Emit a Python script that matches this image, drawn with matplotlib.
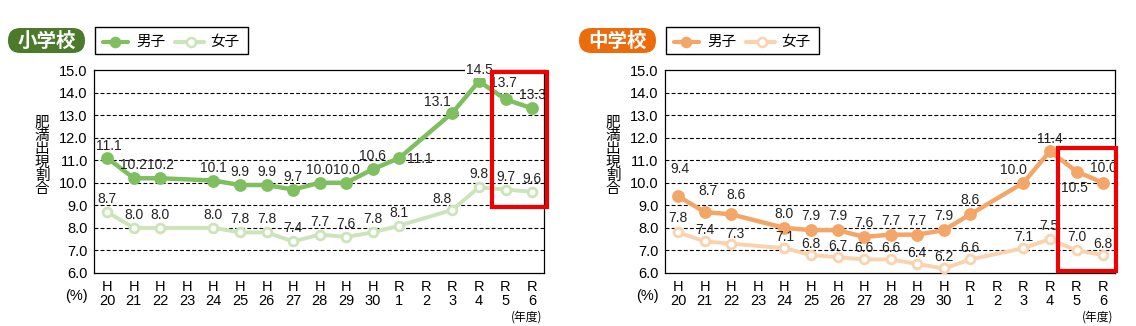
import numpy as np
import matplotlib
matplotlib.use('Agg')
import matplotlib.pyplot as plt
from matplotlib import font_manager
from matplotlib.patches import Rectangle, FancyBboxPatch
from matplotlib.lines import Line2D
from matplotlib.transforms import IdentityTransform

# ---------------- data ----------------
years = ['H\n20', 'H\n21', 'H\n22', 'H\n23', 'H\n24', 'H\n25', 'H\n26', 'H\n27',
         'H\n28', 'H\n29', 'H\n30', 'R\n1', 'R\n2', 'R\n3', 'R\n4', 'R\n5', 'R\n6']
nan = np.nan
elem_boys = [11.1, 10.2, 10.2, nan, 10.1, 9.9, 9.9, 9.7, 10.0, 10.0, 10.6, 11.1, nan, 13.1, 14.5, 13.7, 13.3]
elem_girls = [8.7, 8.0, 8.0, nan, 8.0, 7.8, 7.8, 7.4, 7.7, 7.6, 7.8, 8.1, nan, 8.8, 9.8, 9.7, 9.6]
mid_boys = [9.4, 8.7, 8.6, nan, 8.0, 7.9, 7.9, 7.6, 7.7, 7.7, 7.9, 8.6, nan, 10.0, 11.4, 10.5, 10.0]
mid_girls = [7.8, 7.4, 7.3, nan, 7.1, 6.8, 6.7, 6.6, 6.6, 6.4, 6.2, 6.6, nan, 7.1, 7.5, 7.0, 6.8]
yticks = [6.0, 7.0, 8.0, 9.0, 10.0, 11.0, 12.0, 13.0, 14.0, 15.0]
school_titles = ['小学校', '中学校']
legend_labels = ['男子', '女子']
ylabel_text = '肥満出現割合'

# ---------------- style ----------------
W, H = 1136, 326
JP = 'Noto Sans CJK JP'
names = {f.name for f in font_manager.fontManager.ttflist}
NUMF = 'Liberation Sans Narrow' if 'Liberation Sans Narrow' in names else 'Liberation Sans'
plt.rcParams['font.family'] = ['Liberation Sans', JP, 'DejaVu Sans']

GREEN = '#7fbf5f'
LGREEN = '#cbe4b9'
DGREEN = '#4b7a2a'
ORANGE = '#f3a667'
LORANGE = '#fad2ae'
DORANGE = '#ec6c0c'
RED = '#f00000'

fig = plt.figure(figsize=(W / 100, H / 100), dpi=100)
IT = IdentityTransform()


def px(x, y):
    return x, H - y


charts = [
    dict(left=94, boys=elem_boys, girls=elem_girls, c1=GREEN, c2=LGREEN, badge=DGREEN,
         title=school_titles[0],
         off_b={0: (2, 12), 11: (21, -1), 13: (-15, 11), 14: (0, 11), 15: (-2, 16)},
         off_g={13: (-10, 11)}, def_b=(0, 13), def_g=(0, 13),
         rect=(14.5, 8.93, 16.55, 14.92), white={('b', 14)}),
    dict(left=665, boys=mid_boys, girls=mid_girls, c1=ORANGE, c2=LORANGE, badge=DORANGE,
         title=school_titles[1],
         off_b={0: (2, 27), 1: (3, 21), 2: (5, 19), 13: (-10, 13), 14: (0, 12), 15: (-2, -16), 16: (0, 15)},
         off_g={0: (0, 14), 2: (4, 10), 14: (-1, 13), 15: (0, 13)}, def_b=(0, 14), def_g=(0, 11),
         rect=(14.3, 6.08, 16.47, 11.55), white=set()),
]

for ch in charts:
    L = ch['left']
    ax = fig.add_axes([L / W, 1 - 273 / H, 450 / W, 203 / H])
    x = np.arange(len(years))
    ax.set_xlim(-0.5, 16.45)
    ax.set_ylim(6.0, 15.0)
    ax.set_yticks(yticks)
    ax.set_yticklabels([f'{v:.1f}' for v in yticks], fontsize=10.5)
    ax.set_xticks(x)
    ax.set_xticklabels(years, fontsize=10.5, linespacing=1.05)
    ax.tick_params(length=0)
    ax.tick_params(axis='y', pad=4.5)
    ax.tick_params(axis='x', pad=5)
    for s in ax.spines.values():
        s.set_linewidth(0.9)
        s.set_color('black')
    for v in yticks[1:-1]:
        ax.axhline(v, color='black', lw=0.8, ls=(0, (3.5, 2)), zorder=1)

    for key, vals, col, face, lw, ms, offs, dflt in [
        ('b', ch['boys'], ch['c1'], ch['c1'], 3.2, 7.2, ch['off_b'], ch['def_b']),
        ('g', ch['girls'], ch['c2'], 'white', 2.8, 6.3, ch['off_g'], ch['def_g'])]:
        arr = np.array(vals, dtype=float)
        m = ~np.isnan(arr)
        ax.plot(x[m], arr[m], color=col, lw=lw, marker='o', ms=ms, mfc=face,
                mec=col, mew=2.0, zorder=3, solid_capstyle='round')
        for i in np.where(m)[0]:
            dx, dy = offs.get(int(i), dflt)
            kw = {}
            if (key, int(i)) in ch['white']:
                kw['bbox'] = dict(facecolor='white', edgecolor='none', pad=0.3)
            ax.annotate(f'{arr[i]:.1f}', (x[i], arr[i]), xytext=(dx, dy),
                        textcoords='offset pixels', ha='center', va='center',
                        fontsize=10, family=[NUMF, 'DejaVu Sans'], color='#222222',
                        zorder=6, annotation_clip=False, **kw)

    x0, y0, x1, y1 = ch['rect']
    ax.add_patch(Rectangle((x0, y0), x1 - x0, y1 - y0, fill=False, ec=RED, lw=3.0,
                           clip_on=False, zorder=7))

    # y label (vertical stacked)
    fig.text((L - 52) / W, 1 - 156 / H, '\n'.join(ylabel_text), ha='center', va='center',
             fontsize=10.5, linespacing=0.93, family=[JP])
    fig.text((L - 18) / W, 1 - 296 / H, '(%)', ha='center', va='center', fontsize=10.5)

    # badge
    bx = L - 86
    fig.add_artist(FancyBboxPatch(px(bx, 53), 77, 25,
                                  boxstyle='round,pad=0,rounding_size=12.5',
                                  transform=IT, fc=ch['badge'], ec='none'))
    fig.text(*px(bx + 38.5, 41), ch['title'], transform=IT, ha='center', va='center',
             fontsize=14, fontweight='bold', color='white', family=[JP])

    # legend box
    fig.add_artist(Rectangle(px(L + 1, 54), 153, 27, transform=IT, fill=False,
                             ec='black', lw=1.0))
    for (ls, le, mx, tx), col, face, lab in [((L + 9, L + 34, L + 21, L + 42), ch['c1'], ch['c1'], legend_labels[0]),
                                             ((L + 81, L + 110, L + 97, L + 116), ch['c2'], 'white', legend_labels[1])]:
        fig.add_artist(Line2D([px(ls, 42)[0], px(le, 42)[0]], [H - 42, H - 42], transform=IT,
                              color=col, lw=3.0, solid_capstyle='round'))
        fig.add_artist(Line2D([mx], [H - 42], transform=IT, marker='o', ms=6.5,
                              mfc=face, mec=col, mew=1.8, color=col))
        fig.text(*px(tx, 42), lab, transform=IT, ha='left', va='center', fontsize=10.5,
                 family=[JP])

# (年度)
for L in (94, 665):
    fig.text((L + 433) / W, 1 - 317 / H, '(年度)', ha='center', va='center', fontsize=8.5,
             family=[JP])

fig.savefig('out.png', dpi=100)
